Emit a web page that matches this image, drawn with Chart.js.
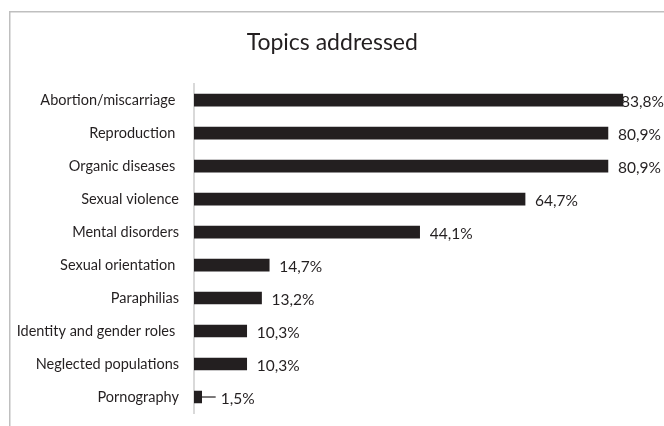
<!DOCTYPE html>
<html>
<head>
<meta charset="utf-8">
<script src="https://cdn.jsdelivr.net/npm/chart.js@4/dist/chart.umd.min.js"></script>
<style>
  html, body { margin: 0; padding: 0; background: #ffffff; }
  #wrap { width: 664px; height: 426px; position: relative; }
</style>
</head>
<body>
<div id="wrap"><canvas id="c" width="664" height="426"></canvas></div>
<script>
const categories = [
  'Abortion/miscarriage ',
  'Reproduction ',
  'Organic diseases ',
  'Sexual violence',
  'Mental disorders',
  'Sexual orientation ',
  'Paraphilias',
  'Identity and gender roles ',
  'Neglected populations',
  'Pornography'
];
const percentages = [83.8, 80.9, 80.9, 64.7, 44.1, 14.7, 13.2, 10.3, 10.3, 1.5];
const chartTitle = 'Topics addressed';

const FONT = 'Lato, "Open Sans", sans-serif';
const INK = '#231f20';

const frameAndLabels = {
  id: 'frameAndLabels',
  beforeDraw(chart) {
    const ctx = chart.ctx;
    ctx.save();
    ctx.strokeStyle = '#bfbfbf';
    ctx.lineWidth = 1.5;
    ctx.beginPath();
    ctx.moveTo(9.75, chart.height);
    ctx.lineTo(9.75, 11.75);
    ctx.lineTo(chart.width, 11.75);
    ctx.stroke();
    ctx.restore();
  },
  beforeDatasetsDraw(chart) {
    const ctx = chart.ctx;
    const meta = chart.getDatasetMeta(0);
    const data = chart.data.datasets[0].data;
    ctx.save();
    ctx.font = '15.5px ' + FONT;
    ctx.fillStyle = INK;
    ctx.textBaseline = 'middle';
    ctx.textAlign = 'left';
    meta.data.forEach((bar, i) => {
      const txt = data[i].toFixed(1).replace('.', ',') + '%';
      const w = ctx.measureText(txt).width;
      const barLen = bar.x - bar.base;
      let x = bar.x + 10;
      const y = bar.y + 1.5;
      if (barLen < 12) {
        ctx.strokeStyle = INK;
        ctx.lineWidth = 1.2;
        ctx.beginPath();
        ctx.moveTo(bar.x, bar.y);
        ctx.lineTo(bar.x + 14, bar.y);
        ctx.stroke();
        x = bar.x + 19;
      }
      if (x + w > chart.width) x = chart.width - w;
      ctx.fillText(txt, x, y);
    });
    ctx.restore();
  }
};

new Chart(document.getElementById('c'), {
  type: 'bar',
  data: {
    labels: categories,
    datasets: [{
      data: percentages,
      backgroundColor: INK,
      borderWidth: 0,
      barThickness: 12
    }]
  },
  options: {
    indexAxis: 'y',
    responsive: false,
    animation: false,
    events: [],
    layout: { padding: { left: 10, right: 9.5, top: 0, bottom: 12.5 } },
    plugins: {
      legend: { display: false },
      tooltip: { enabled: false },
      title: {
        display: true,
        text: chartTitle,
        color: INK,
        font: { family: FONT, size: 23, weight: 'normal' },
        padding: { top: 29, bottom: 27 }
      }
    },
    scales: {
      x: {
        display: false,
        min: 0,
        max: 90
      },
      y: {
        grid: { display: false, drawTicks: false },
        border: { display: true, color: '#d9d9d9', width: 2 },
        ticks: {
          color: INK,
          padding: 15,
          font: { family: FONT, size: 14.5 }
        },
        afterFit(scale) {
          scale.width = 184;
          scale.paddingTop = 0;
          scale.paddingBottom = 0;
        }
      }
    }
  },
  plugins: [frameAndLabels]
});
</script>
</body>
</html>
